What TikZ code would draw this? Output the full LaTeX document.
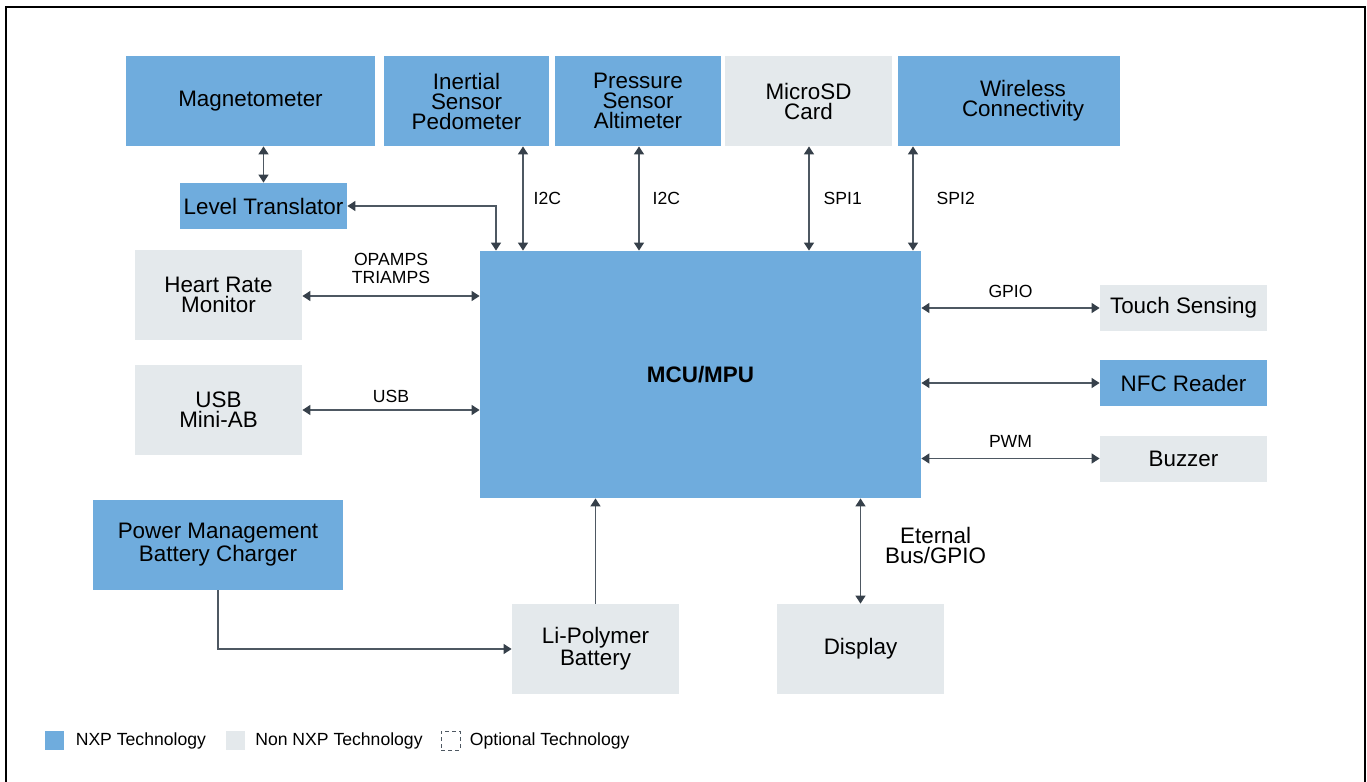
\documentclass[tikz,border=0pt]{standalone}
\usepackage{fontspec}
\setmainfont{Liberation Sans}
\usepackage{tikz}
\usetikzlibrary{positioning,arrows.meta}

\definecolor{nxpblue}{RGB}{111,172,221}
\definecolor{nongray}{RGB}{228,233,236}
\definecolor{linegray}{RGB}{78,88,98}
\definecolor{tipgray}{RGB}{54,64,74}

\begin{document}
\begin{tikzpicture}[x=0.5pt, y=-0.5pt,
    nxp/.style={rectangle, fill=nxpblue, inner sep=1pt, align=center, font=\fontsize{11.2}{10}\selectfont},
    non/.style={rectangle, fill=nongray, inner sep=1pt, align=center, font=\fontsize{11.2}{10}\selectfont},
    link/.style={draw=linegray, line width=0.7pt, {Triangle[length=4pt,width=5pt,color=tipgray]}-{Triangle[length=4pt,width=5pt,color=tipgray]}},
    feed/.style={draw=linegray, line width=0.7pt, -{Triangle[length=4pt,width=5pt,color=tipgray]}},
    bus/.style={inner sep=1pt, align=center, font=\fontsize{8.8}{9}\selectfont},
    key/.style={minimum size=9.5pt, inner sep=0pt},
    keytext/.style={inner sep=0pt, font=\fontsize{8.8}{10}\selectfont}]
  \useasboundingbox (0,0) rectangle (1367,782);

    % Frame
    \draw[line width=1pt] (6,782) -- (6,6.5) -- (1365,6.5) -- (1365,782);

    % Define top row nodes
    \node[nxp, minimum width=124.5pt, minimum height=45pt] (Magneto) at (250.5,101) {Magnetometer};
    \node[nxp, minimum width=82.5pt, minimum height=45pt] (Inertial) at (466.5,101) {Inertial\\Sensor\\Pedometer};
    \node[nxp, minimum width=83pt, minimum height=45pt] (Pressure) at (638,101) {Pressure\\Sensor\\Altimeter};
    \node[non, minimum width=83.5pt, minimum height=45pt] (MicroSD) at (808.5,101) {MicroSD\\Card};
    \node[nxp, minimum width=111pt, minimum height=45pt] (Wireless) at (1009,101) {\hspace*{14pt}Wireless\\\hspace*{14pt}Connectivity};

    % Define left column nodes
    \node[nxp, minimum width=83.5pt, minimum height=23pt] (Level) at (263.5,206) {Level Translator};
    \node[non, minimum width=83.5pt, minimum height=45pt] (Heart) at (218.5,295) {Heart Rate\\Monitor};
    \node[non, minimum width=83.5pt, minimum height=45pt] (USB) at (218.5,410) {USB\\Mini-AB};
    \node[nxp, minimum width=125pt, minimum height=45pt] (Power) at (218,545) {Power Management\\Battery Charger};

    % Define processor node
    \node[nxp, minimum width=220.5pt, minimum height=123.5pt, font=\fontsize{11.2}{10}\selectfont\bfseries] (MCU) at (700.5,374.5) {MCU/MPU};

    % Define right column nodes
    \node[non, minimum width=83.5pt, minimum height=23pt] (Touch) at (1183.5,308) {Touch Sensing};
    \node[nxp, minimum width=83.5pt, minimum height=23pt] (NFC) at (1183.5,383) {NFC Reader};
    \node[non, minimum width=83.5pt, minimum height=23pt] (Buzzer) at (1183.5,458.5) {Buzzer};

    % Define bottom row nodes
    \node[non, minimum width=83.5pt, minimum height=45pt] (Battery) at (595.5,649) {Li-Polymer\\Battery};
    \node[non, minimum width=83.5pt, minimum height=45pt] (Display) at (860.5,649) {Display};

    % Buses to the top row
    \draw[link] (Magneto.south -| Level.north) -- (Level.north);
    \draw[link] (Level.east) -| (MCU.north -| 496,0);
    \draw[link] (Inertial.south -| 523,0) to node [bus, right=4pt] {I2C} (MCU.north -| 523,0);
    \draw[link] (Pressure.south -| 639,0) to node [bus, right=5.5pt] {I2C} (MCU.north -| 639,0);
    \draw[link] (MicroSD.south -| 809,0) to node [bus, right=6pt] {SPI1} (MCU.north -| 809,0);
    \draw[link] (Wireless.south -| 913,0) to node [bus, right=10.5pt] {SPI2} (MCU.north -| 913,0);

    % Buses to the sides
    \draw[link] (Heart.east |- 0,296) to node [bus, above=5pt] {OPAMPS\\TRIAMPS} (MCU.west |- 0,296);
    \draw[link] (USB.east) to node [bus, above=2.5pt] {USB} (USB.east -| MCU.west);
    \draw[link] (Touch.west -| MCU.east) to node [bus, above=4pt] {GPIO} (Touch.west);
    \draw[link] (NFC.west -| MCU.east) -- (NFC.west);
    \draw[link] (Buzzer.west -| MCU.east) to node [bus, above=4pt] {PWM} (Buzzer.west);

    % Power and display
    \draw[feed] (Battery.north) -- (Battery.north |- MCU.south);
    \draw[feed] (Power.south) |- (Battery.west);
    \draw[link] (MCU.south -| Display.north) to node [right=11pt, yshift=3pt, align=center, inner sep=1pt, font=\fontsize{11.2}{10}\selectfont] {Eternal\\Bus/GPIO} (Display.north);

    % Legend
    \node[key, fill=nxpblue] (KeyNXP) at (54.5,740.5) {};
    \node[keytext, right=5.5pt of KeyNXP] (KeyNXPText) {NXP Technology};
    \node[key, fill=nongray] (KeyNon) at (235,740.5) {};
    \node[keytext, right=5pt of KeyNon] (KeyNonText) {Non NXP Technology};
    \node[key, draw=linegray, line width=0.5pt, dash pattern=on 2pt off 1.5pt] (KeyOpt) at (450.5,740.5) {};
    \node[keytext, right=4.5pt of KeyOpt] (KeyOptText) {Optional Technology};
\end{tikzpicture}
\end{document}
